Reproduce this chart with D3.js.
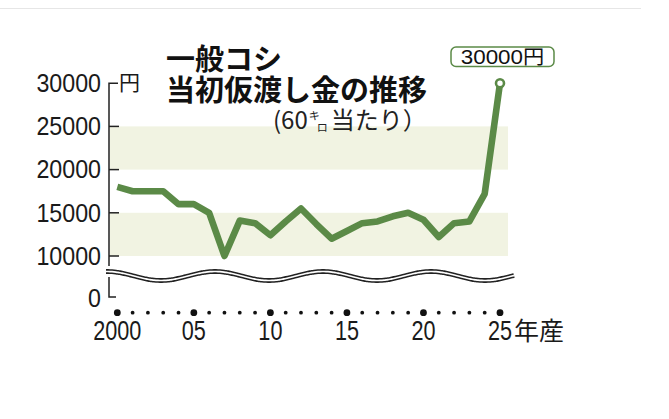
<!DOCTYPE html>
<html>
<head>
<meta charset="utf-8">
<script src="https://cdn.jsdelivr.net/npm/d3@7"></script>
<style>
body{margin:0;background:#fff}
svg{display:block}
</style>
</head>
<body>
<svg id="vis" width="669" height="419"></svg>
<script>
// 一般コシ 当初仮渡し金 (円 / 60kg)
var years = d3.range(2000, 2026);
var prices = [18000,17500,17500,17500,16000,16000,15000,10000,14100,13800,
              12400,14000,15500,13700,12000,12900,13800,14000,14600,15000,
              14200,12200,13800,14000,17200,30000];
var yTicks = [10000,15000,20000,25000,30000];
var yTickLabels = ["10000","15000","20000","25000","30000"];
var bands = [[10000,15000],[20000,25000]];
var xTickYears = [2000,2005,2010,2015,2020,2025];
var xTickLabels = ["2000","05","10","15","20","25"];

var green = "#5b8a47";
var numFont = "'Liberation Sans', Arial, sans-serif";
var jpFont = "'Noto Sans CJK JP', 'Noto Sans', sans-serif";

var svg = d3.select("#vis");

var x = d3.scaleLinear().domain([2000,2025]).range([117.3,500]);
var y = d3.scaleLinear().domain([10000,30000]).range([256,83.2]);

// faint frame line at top
svg.append("line")
  .attr("x1",0).attr("x2",641).attr("y1",8.5).attr("y2",8.5)
  .attr("stroke","#e6e6e6").attr("stroke-width",1);

// shaded bands
svg.selectAll("rect.band")
  .data(bands)
  .enter()
  .append("rect")
  .attr("class","band")
  .attr("x",110)
  .attr("width",398)
  .attr("y",function(d){ return y(d[1]); })
  .attr("height",function(d){ return y(d[0]) - y(d[1]); })
  .attr("fill","#f1f3e2");

// y axis
svg.append("path")
  .attr("d","M118," + y(30000) + "H109V297H116")
  .attr("fill","none").attr("stroke","#222").attr("stroke-width",1.5);
svg.selectAll("line.ytick")
  .data(yTicks.slice(0,4))
  .enter()
  .append("line")
  .attr("class","ytick")
  .attr("x1",109).attr("x2",119)
  .attr("y1",function(d){ return y(d); })
  .attr("y2",function(d){ return y(d); })
  .attr("stroke","#222").attr("stroke-width",1.5);

// y labels (narrow numerals)
var yl = svg.selectAll("g.ylab")
  .data(yTicks)
  .enter()
  .append("g")
  .attr("class","ylab")
  .attr("transform",function(d){ return "translate(101," + (y(d)+8.8) + ") scale(0.93,1)"; });
yl.append("text")
  .attr("text-anchor","end")
  .attr("font-family",numFont)
  .attr("font-size",25)
  .attr("fill","#1a1a1a")
  .text(function(d,i){ return yTickLabels[i]; });
svg.append("g")
  .attr("transform","translate(101,306.5) scale(0.93,1)")
  .append("text")
  .attr("text-anchor","end")
  .attr("font-family",numFont).attr("font-size",25).attr("fill","#1a1a1a")
  .text("0");
svg.append("text")
  .attr("x",119).attr("y",90)
  .attr("font-family",jpFont).attr("font-size",21).attr("fill","#1a1a1a")
  .text("円");

// axis break: double wavy line
var wave = d3.range(106,516,2).map(function(px){
  return [px, 276 - 4.5*Math.cos(2*Math.PI*(px-107)/108)];
});
var waveLine = d3.line().curve(d3.curveBasis);
svg.append("path").attr("d",waveLine(wave))
  .attr("fill","none").attr("stroke","#fff").attr("stroke-width",11);
svg.append("path").attr("d",waveLine(wave))
  .attr("fill","none").attr("stroke","#222").attr("stroke-width",4.8);
svg.append("path").attr("d",waveLine(wave))
  .attr("fill","none").attr("stroke","#fff").attr("stroke-width",1.7);

// x axis dots
svg.selectAll("circle.xdot")
  .data(years)
  .enter()
  .append("circle")
  .attr("class","xdot")
  .attr("cx",function(d){ return x(d); })
  .attr("cy",312.7)
  .attr("r",function(d){ return d % 5 === 0 ? 3.4 : 1.9; })
  .attr("fill","#111");

// x labels
var xl = svg.selectAll("g.xlab")
  .data(xTickYears)
  .enter()
  .append("g")
  .attr("class","xlab")
  .attr("transform",function(d){ return "translate(" + x(d) + ",340) scale(0.76,1)"; });
xl.append("text")
  .attr("text-anchor","middle")
  .attr("font-family",numFont)
  .attr("font-size",28.5)
  .attr("fill","#1a1a1a")
  .text(function(d,i){ return xTickLabels[i]; });
svg.append("text")
  .attr("x",x(2025)+14).attr("y",340)
  .attr("font-family",jpFont).attr("font-size",25).attr("fill","#1a1a1a")
  .text("年産");

// price line
var line = d3.line()
  .x(function(d,i){ return x(years[i]); })
  .y(function(d){ return y(d); });
svg.append("path")
  .datum(prices)
  .attr("d",line)
  .attr("fill","none")
  .attr("stroke",green)
  .attr("stroke-width",6.6)
  .attr("stroke-linejoin","round");

// end marker
svg.append("circle")
  .attr("cx",x(2025)).attr("cy",y(30000)).attr("r",4)
  .attr("fill","#fff").attr("stroke",green).attr("stroke-width",2.6);

// callout
svg.append("rect")
  .attr("x",451).attr("y",47).attr("width",103).attr("height",19.5).attr("rx",5)
  .attr("fill","#fff").attr("stroke",green).attr("stroke-width",1.5);
svg.append("g")
  .attr("transform","translate(502.5,64) scale(1.12,1)")
  .append("text")
  .attr("text-anchor","middle")
  .attr("font-family",numFont).attr("font-size",20).attr("fill","#111")
  .text("30000")
  .append("tspan")
  .attr("font-family",jpFont).attr("font-size",19)
  .text("円");

// title
svg.append("text")
  .attr("x",166).attr("y",69.5)
  .attr("font-family",jpFont).attr("font-weight","bold").attr("font-size",29)
  .attr("fill","#111")
  .text("一般コシ");
svg.append("text")
  .attr("x",166).attr("y",101)
  .attr("font-family",jpFont).attr("font-weight","bold").attr("font-size",29)
  .attr("fill","#111")
  .text("当初仮渡し金の推移");

// subtitle (60キロ当たり) with small stacked キロ
var sub = svg.append("text")
  .attr("x",273).attr("y",129)
  .attr("font-family",jpFont).attr("font-size",24)
  .attr("fill","#222");
sub.append("tspan").text("(60");
sub.append("tspan").attr("font-size",11).attr("dx",1).attr("dy",-9).text("キ");
sub.append("tspan").attr("font-size",11).attr("dx",-3).attr("dy",12).text("ロ");
sub.append("tspan").attr("dx",3).attr("dy",-3).text("当たり）");
</script>
</body>
</html>
